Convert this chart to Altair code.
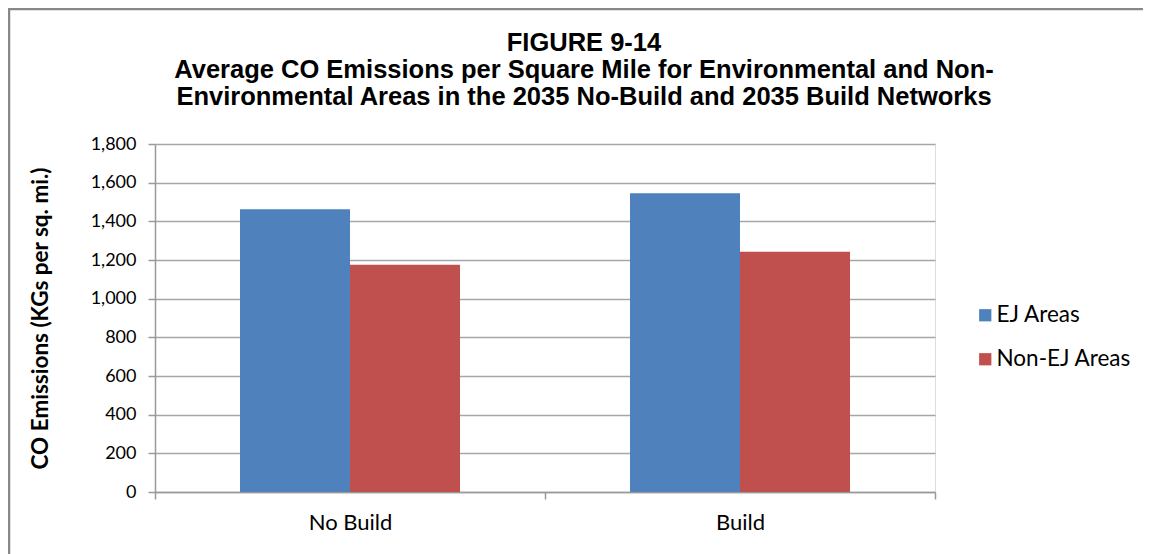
import altair as alt
import pandas as pd

scenarios = ["No Build", "Build"]
series = ["EJ Areas", "Non-EJ Areas"]
ej_values = [1462, 1545]
nonej_values = [1176, 1243]
y_ticks = [0, 200, 400, 600, 800, 1000, 1200, 1400, 1600, 1800]
colors = ["#4F81BD", "#C0504D"]

rows = []
for i, s in enumerate(scenarios):
    rows.append({"scenario": s, "series": series[0], "value": ej_values[i]})
    rows.append({"scenario": s, "series": series[1], "value": nonej_values[i]})
df = pd.DataFrame(rows)

FONT = "Lato"

bars = alt.Chart(df).mark_bar().encode(
    x=alt.X("scenario:N", sort=scenarios,
            scale=alt.Scale(domain=scenarios, paddingInner=0, paddingOuter=0),
            axis=alt.Axis(title=None, labelAngle=0, labelFont=FONT, labelFontSize=22,
                          labelColor="#000000", labelPadding=13, tickBand="extent",
                          tickSize=7, tickColor="#999999", domainColor="#999999",
                          domainWidth=1.5, tickWidth=1.5, grid=False)),
    xOffset=alt.XOffset("series:N", sort=series,
                        scale=alt.Scale(domain=series, paddingInner=0, paddingOuter=0.7727)),
    y=alt.Y("value:Q",
            scale=alt.Scale(domain=[0, 1800], nice=False),
            axis=alt.Axis(title="CO Emissions (KGs per sq. mi.)", values=y_ticks,
                          format=",d", labelFont=FONT, labelFontSize=18,
                          labelColor="#000000", labelPadding=12, tickSize=7,
                          tickColor="#999999", tickWidth=1.5, domainColor="#999999",
                          domainWidth=1.5, gridColor="#a6a6a6", gridWidth=1.5,
                          titleFont=FONT, titleFontSize=22.5, titleFontWeight="bold",
                          titleColor="#000000", titlePadding=38)),
    color=alt.Color("series:N", sort=series,
                    scale=alt.Scale(domain=series, range=colors),
                    legend=alt.Legend(title=None, orient="none", legendX=819, legendY=160,
                                      symbolType="square", symbolSize=150,
                                      symbolStrokeWidth=0, labelFont=FONT,
                                      labelFontSize=22.5, labelColor="#000000",
                                      labelOffset=0, rowPadding=21)),
)

frame = alt.Chart(pd.DataFrame({"a": [0]})).mark_rect(
    fill=None, stroke="#888888", strokeWidth=2.5
).encode(
    x=alt.value(-146), x2=alt.value(1100),
    y=alt.value(-135), y2=alt.value(600),
)

chart = alt.layer(frame, bars).properties(
    width=780, height=348,
    padding={"left": 147, "top": 136, "right": 208, "bottom": 62},
    autosize=alt.AutoSizeParams(type="none"),
    title=alt.TitleParams(
        text=["FIGURE 9-14",
              "Average CO Emissions per Square Mile for Environmental and Non-",
              "Environmental Areas in the 2035 No-Build and 2035 Build Networks"],
        font="Liberation Sans, Arial", fontSize=25.5,
        fontWeight="bold", color="#000000", anchor="middle", dx=39,
        lineHeight=27, offset=-103),
).configure_view(stroke=None).configure(background="white")

chart.save("out.html", embed_options={"renderer": "svg", "actions": False})
